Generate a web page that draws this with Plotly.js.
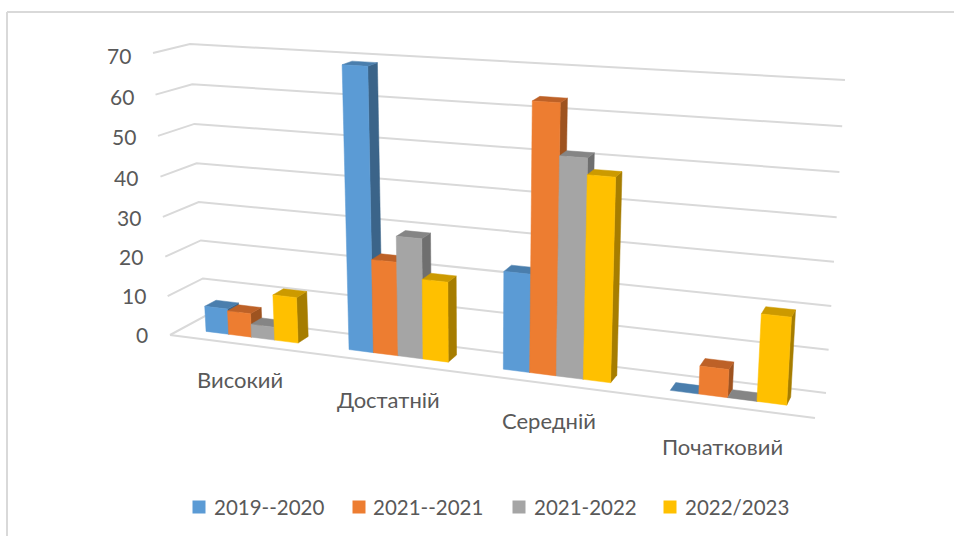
<!DOCTYPE html>
<html>
<head>
<meta charset="utf-8">
<script src="https://cdn.plot.ly/plotly-3.0.1.min.js"></script>
<style>html,body{margin:0;padding:0;background:#fff}</style>
</head>
<body>
<div id="chart" style="width:954px;height:536px"></div>
<script>
const categories = ["Високий", "Достатній", "Середній", "Початковий"];
const seriesNames = ["2019--2020", "2021--2021", "2021-2022", "2022/2023"];
const values2019 = [6.5, 69, 23.5, 0];
const values2021a = [6, 23, 63.5, 6.5];
const values2021b = [3.3, 29.3, 51.5, 0];
const values2022 = [11.5, 19.5, 47.7, 20];
const valueTicks = [0, 10, 20, 30, 40, 50, 60, 70];
const frontColors = ["#5B9BD5", "#ED7D31", "#A5A5A5", "#FFC000"];
const topColors = ["#4A7EAD", "#BD6127", "#858585", "#CC9A00"];
const sideColors = ["#3B6489", "#9E5320", "#6F6F6F", "#A67D00"];
const allValues = [values2019, values2021a, values2021b, values2022];
const FONT = "Lato, 'Open Sans', sans-serif";
const TEXT = "#595959", GRID = "#D9D9D9";
const maxValue = 70;

// 3D box projection (u across categories, v depth, w value share)
const box = {
  lfb:[170,335], lft:[153,53], lbb:[205,316], lbt:[190,44],
  rfb:[815,418], rft:[834,96], rbb:[826,393], rbt:[845,80]
};
const lerp = (a,b,t)=>[a[0]+(b[0]-a[0])*t, a[1]+(b[1]-a[1])*t];
function project(u,v,val){
  const t = u/(u+1.17*(1-u));
  const r = val/maxValue;
  const w = r/(r+1.04*(1-r));
  const L = lerp(lerp(box.lfb,box.lbb,v), lerp(box.lft,box.lbt,v), w);
  const R = lerp(lerp(box.rfb,box.rbb,v), lerp(box.rft,box.rbt,v), w);
  return lerp(L,R,t);
}
function poly(points,color,name){
  const pts = points.map(p=>project(p[0],p[1],p[2]));
  pts.push(pts[0]);
  return {type:"scatter",mode:"lines",x:pts.map(p=>p[0]),y:pts.map(p=>p[1]),fill:"toself",
    fillcolor:color,line:{color:color,width:0.5},hoverinfo:"skip",showlegend:false,name:name};
}
const traces = [];
// gridlines
const gx=[], gy=[];
valueTicks.forEach(v=>{
  [[0,0],[0,1],[1,1]].forEach(c=>{const p=project(c[0],c[1],v);gx.push(p[0]);gy.push(p[1]);});
  gx.push(null);gy.push(null);
});
const f0=project(0,0,0), f1=project(1,0,0);
gx.push(f0[0],f1[0]);gy.push(f0[1],f1[1]);
traces.push({type:"scatter",mode:"lines",x:gx,y:gy,line:{color:GRID,width:2},hoverinfo:"skip",showlegend:false,name:"grid"});
// bars
const v0=0.35, v1=0.68;
categories.forEach((c,i)=>{
  seriesNames.forEach((s,j)=>{
    const val=allValues[j][i];
    const u0=(i+0.174+0.652*j/4)/4, u1=(i+0.174+0.652*(j+1)/4)/4;
    traces.push(poly([[u1,v0,0],[u1,v1,0],[u1,v1,val],[u1,v0,val]],sideColors[j],s));
    traces.push(poly([[u0,v0,val],[u1,v0,val],[u1,v1,val],[u0,v1,val]],topColors[j],s));
    if(val>0) traces.push(poly([[u0,v0,0],[u1,v0,0],[u1,v0,val],[u0,v0,val]],frontColors[j],s));
  });
});
// legend
const legendSwatchX=[199,359,519,670], legendTextX=[211.5,370.5,531.5,682.5], legendY=507;
seriesNames.forEach((s,j)=>{
  traces.push({type:"scatter",mode:"markers",x:[legendSwatchX[j]],y:[legendY],
    marker:{symbol:"square",size:13,color:frontColors[j]},hoverinfo:"skip",showlegend:false,name:s});
});
const annotations=[];
valueTicks.forEach(v=>{
  const p=project(0,0,v);
  annotations.push({x:p[0]-20,y:p[1]-1+3*v/maxValue,xref:"x",yref:"y",text:String(v),showarrow:false,xanchor:"right",yanchor:"middle",
    font:{family:FONT,size:21,color:TEXT}});
});
const categoryDy=[35,36.5,36.5,40];
categories.forEach((c,i)=>{
  const p=project((i+0.5)/4,0,0);
  annotations.push({x:p[0],y:p[1]+categoryDy[i],xref:"x",yref:"y",text:c,showarrow:false,xanchor:"center",yanchor:"middle",
    font:{family:FONT,size:22,color:TEXT}});
});
seriesNames.forEach((s,j)=>{
  annotations.push({x:legendTextX[j],y:legendY,xref:"x",yref:"y",text:s,showarrow:false,xanchor:"left",yanchor:"middle",
    font:{family:FONT,size:20.5,color:TEXT}});
});
const layout={
  width:954,height:536,margin:{l:0,r:0,t:0,b:0},
  paper_bgcolor:"#fff",plot_bgcolor:"#fff",showlegend:false,
  xaxis:{range:[0,954],visible:false,fixedrange:true},
  yaxis:{range:[536,0],visible:false,fixedrange:true},
  annotations:annotations,
  shapes:[
    {type:"line",xref:"x",yref:"y",x0:7,y0:12,x1:954,y1:12,line:{color:GRID,width:2},layer:"below"},
    {type:"line",xref:"x",yref:"y",x0:7,y0:12,x1:7,y1:536,line:{color:GRID,width:2},layer:"below"}
  ]
};
Plotly.newPlot("chart",traces,layout,{staticPlot:true,displayModeBar:false});
</script>
</body>
</html>
